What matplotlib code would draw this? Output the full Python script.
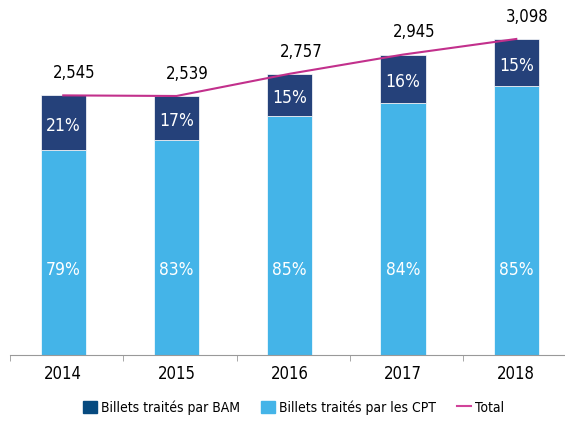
import numpy as np
import matplotlib.pyplot as plt
from matplotlib.patches import Patch
from matplotlib.lines import Line2D

years = ['2014', '2015', '2016', '2017', '2018']
total = [2545, 2539, 2757, 2945, 3098]
pct_bam = [21, 17, 15, 16, 15]
pct_cpt = [79, 83, 85, 84, 85]

plt.rcParams['font.family'] = ['DejaVu Sans']
plt.rcParams['font.stretch'] = 'condensed'

c_bam = '#25417a'
c_cpt = '#44b4e8'
c_tot = '#c2308c'

total = np.array(total)
cpt = total * np.array(pct_cpt) / 100
bam = total - cpt
x = np.arange(len(years))

fig = plt.figure(figsize=(5.65, 4.23), dpi=100)
ax = fig.add_axes([10/565, 68/423, 555/565, 355/423])

ax.bar(x, cpt, width=0.4, color=c_cpt, edgecolor='white', linewidth=0.5)
ax.bar(x, bam, width=0.4, bottom=cpt, color=c_bam, edgecolor='white', linewidth=0.5)
ax.plot(x, total, color=c_tot, lw=1.5)

for i in range(len(x)):
    ax.annotate(f'{total[i]:,}', (x[i], total[i]), xytext=(8, 16), textcoords='offset points',
                ha='center', va='center', fontsize=12)
    ax.text(x[i], cpt[i] + bam[i] / 2 - 30, f'{pct_bam[i]}%', ha='center', va='center',
            color='white', fontsize=12.5)
    ax.text(x[i], 830, f'{pct_cpt[i]}%', ha='center', va='center', color='white', fontsize=12.5)

ax.set_xlim(-0.47, 4.43)
ax.set_ylim(0, 3480)
ax.set_yticks([])
for s in ['top', 'right', 'left']:
    ax.spines[s].set_visible(False)
ax.spines['bottom'].set_color('#999999')
ax.set_xticks(x)
ax.set_xticklabels(years, fontsize=12)
ax.tick_params(axis='x', which='major', length=0, pad=7)
ax.set_xticks(x - 0.47, minor=True)
ax.tick_params(axis='x', which='minor', length=4, color='#999999')

handles = [Patch(color='#064a7f', label='Billets traités par BAM'),
           Patch(color=c_cpt, label='Billets traités par les CPT'),
           Line2D([0], [0], color='#d1439a', lw=1.5, label='Total')]
fig.legend(handles=handles, loc='lower center', bbox_to_anchor=(0.52, -0.01), ncol=3,
           frameon=False, fontsize=10, handlelength=1.0, handleheight=1.0,
           handletextpad=0.3, columnspacing=1.5)

fig.savefig('out.png', dpi=100)
